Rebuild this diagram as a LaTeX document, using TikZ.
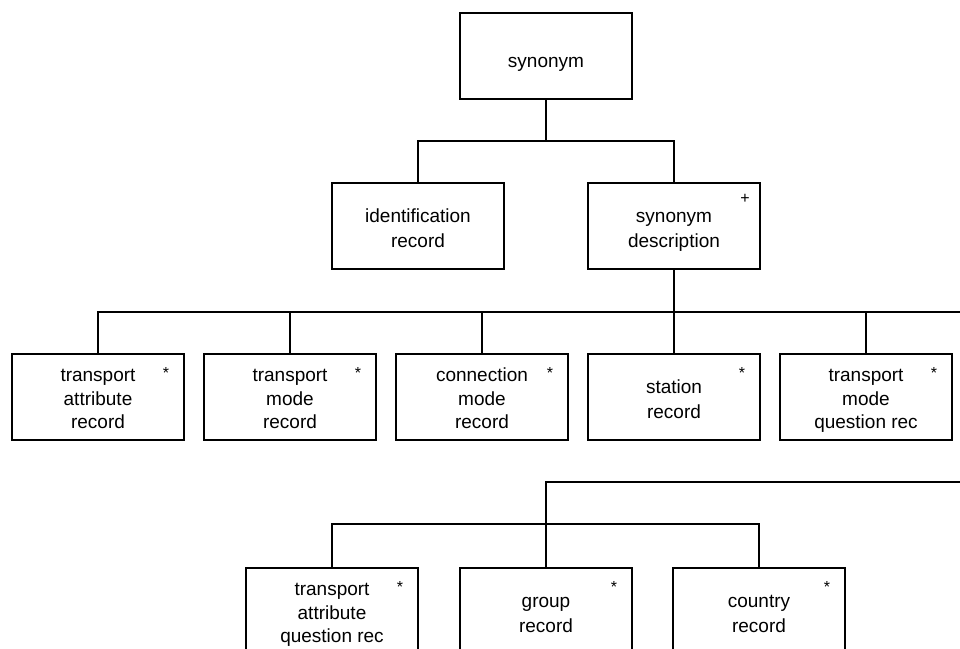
\documentclass[tikz,border=0pt]{standalone}
\usepackage{fontspec}
\setmainfont{Liberation Sans}
\usetikzlibrary{calc}
\tikzset{
  rec/.style={draw, line width=2pt, minimum width=172pt, minimum height=86pt,
    align=center, inner sep=0pt},
  oneline/.style={rec, font=\fontsize{19}{23.5}\selectfont, text height=30pt, text depth=7pt},
  twoline/.style={rec, font=\fontsize{19}{25}\selectfont, text height=50pt, text depth=8pt},
  threeline/.style={rec, font=\fontsize{19}{23.2}\selectfont, text height=70pt, text depth=7.4pt},
  starmark/.style={inner sep=0pt, font=\fontsize{16}{16}\selectfont},
  link/.style={line width=2pt}
}
\begin{document}
\begin{tikzpicture}[x=1pt,y=-1pt]
\clip (0,0) rectangle (960,648);
\fill[white] (0,0) rectangle (960,648);
% nodes
\node[oneline] (syn) at (546,56) {synonym};
\node[twoline] (ident) at (418,226) {identification\\record};
\node[twoline] (desc) at (674,226) {synonym\\description};
\node[threeline] (r1) at (98,397) {transport\\attribute\\record};
\node[threeline] (r2) at (290,397) {transport\\mode\\record};
\node[threeline] (r3) at (482,397) {connection\\mode\\record};
\node[twoline] (r4) at (674,397) {station\\record};
\node[threeline] (r5) at (866,397) {transport\\mode\\question rec};
\node[threeline] (g1) at (332,611) {transport\\attribute\\question rec};
\node[twoline] (g2) at (546,611) {group\\record};
\node[twoline] (g3) at (759,611) {country\\record};
% markers
\node[starmark] (pd) at ($(desc.north east)+(-16,17)$) {+};
\foreach \n in {r1,r2,r3,r4,r5,g1,g2,g3}{
  \node[starmark] (s\n) at ($(\n.north east)+(-19,20)$) {*};
}
% connectors
\coordinate (b1) at (546,141);
\draw[link] (syn.south) -- (b1);
\draw[link] (ident.north) |- (b1) -| (desc.north);
\coordinate (b2) at (674,312);
\coordinate (e2) at (975,312);
\draw[link] (desc.south) -- (b2);
\draw[link] (r1.north) |- (e2);
\foreach \n in {r2,r3,r4,r5}{
  \draw[link] (\n.north) -- (\n.north |- b2);
}
\coordinate (e3) at (975,482);
\draw[link] (g2.north) |- (e3);
\coordinate (b3) at (546,524);
\draw[link] (g1.north) |- (b3) -| (g3.north);
\end{tikzpicture}
\end{document}
